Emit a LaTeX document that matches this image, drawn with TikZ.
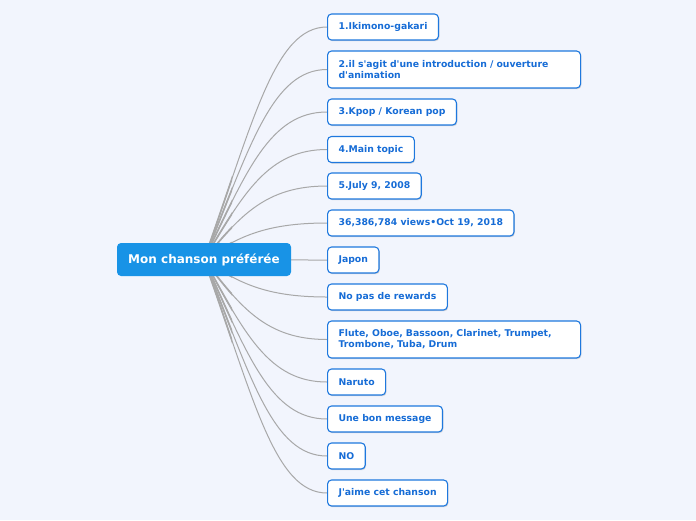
\documentclass[tikz,border=0pt]{standalone}
\usepackage{fontspec}
\setmainfont{DejaVu Sans}
\usetikzlibrary{calc, positioning, shadows, backgrounds}
\definecolor{mmBack}{RGB}{242,245,253}
\definecolor{mmBlue}{RGB}{24,147,230}
\definecolor{mmEdge}{RGB}{30,120,222}
\definecolor{mmText}{RGB}{22,108,214}
\definecolor{mmLink}{RGB}{168,168,168}
\tikzset{
  hubnode/.style={fill=mmBlue, text=white, rounded corners=4pt,
                  font=\fontsize{12}{14}\selectfont\bfseries,
                  minimum width=174pt, minimum height=33pt, inner sep=0pt},
  topic/.style={draw=mmEdge, line width=1.1pt, fill=white, text=mmText,
                rounded corners=4pt, anchor=west, align=left,
                font=\fontsize{9.3}{11}\selectfont\bfseries,
                minimum height=26pt, inner xsep=11pt, inner ysep=4pt,
                drop shadow={shadow xshift=0.8pt, shadow yshift=-1.2pt,
                             opacity=0.3}},
  widetopic/.style={topic, text width=231pt, minimum height=37pt},
  link/.style={draw=mmLink, line width=1pt},
  linkroot/.style={draw=mmLink, line width=1.7pt},
}

\begin{document}
\begin{tikzpicture}[x=1pt, y=-1pt]
  \useasboundingbox (0,0) rectangle (696,520);
  % ================= central topic =================
  \node[hubnode] (hub) at (204,259.5) {Mon chanson préférée};
  % ================= sub topics =================
  \node[topic] (artist)  at (327,27)    {1.Ikimono-gakari};
  \node[widetopic] (intro) at (327,69.5)
    {2.il s\textquotesingle agit d\textquotesingle une introduction / ouverture\\d\textquotesingle animation};
  \node[topic] (kpop)    at (327,112)   {3.Kpop / Korean pop};
  \node[topic] (main)    at (327,149.5) {4.Main topic};
  \node[topic] (date)    at (327,186)   {5.July 9, 2008};
  \node[topic] (views)   at (327,223)   {36,386,784 views•Oct 19, 2018};
  \node[topic] (japon)   at (327,260)   {Japon};
  \node[topic] (rewards) at (327,297)   {No pas de rewards};
  \node[widetopic] (instr) at (327,339.5)
    {Flute, Oboe, Bassoon, Clarinet, Trumpet,\\Trombone, Tuba, Drum};
  \node[topic] (naruto)  at (327,382)   {Naruto};
  \node[topic] (message) at (327,419)   {Une bon message};
  \node[topic] (no)      at (327,456)   {NO};
  \node[topic] (jaime)   at (327,493)   {J\textquotesingle aime cet chanson};
  % ================= connectors =================
  \begin{scope}[on background layer]
    \fill[mmBack] (0,0) rectangle (696,520);
    \foreach \n/\yc in {artist/27, intro/69.5, kpop/112, main/149.5,
                        date/186, views/223, japon/260, rewards/297,
                        instr/339.5, naruto/382, message/419, no/456,
                        jaime/493}{
      \pgfmathsetmacro\dy{\yc-259.5}
      \draw[link] (hub.center)
        .. controls ($(hub.center)+({30+0.085*abs(\dy)},{0.6*\dy})$)
        and ($(\n.west)+({-65+0.055*abs(\dy)},0)$) .. (\n.west);
      % thicker near the root
      \begin{scope}
        \clip (0,0) rectangle (232,520);
        \draw[linkroot] (hub.center)
          .. controls ($(hub.center)+({30+0.085*abs(\dy)},{0.6*\dy})$)
          and ($(\n.west)+({-65+0.055*abs(\dy)},0)$) .. (\n.west);
      \end{scope}
    }
  \end{scope}
\end{tikzpicture}
\end{document}
